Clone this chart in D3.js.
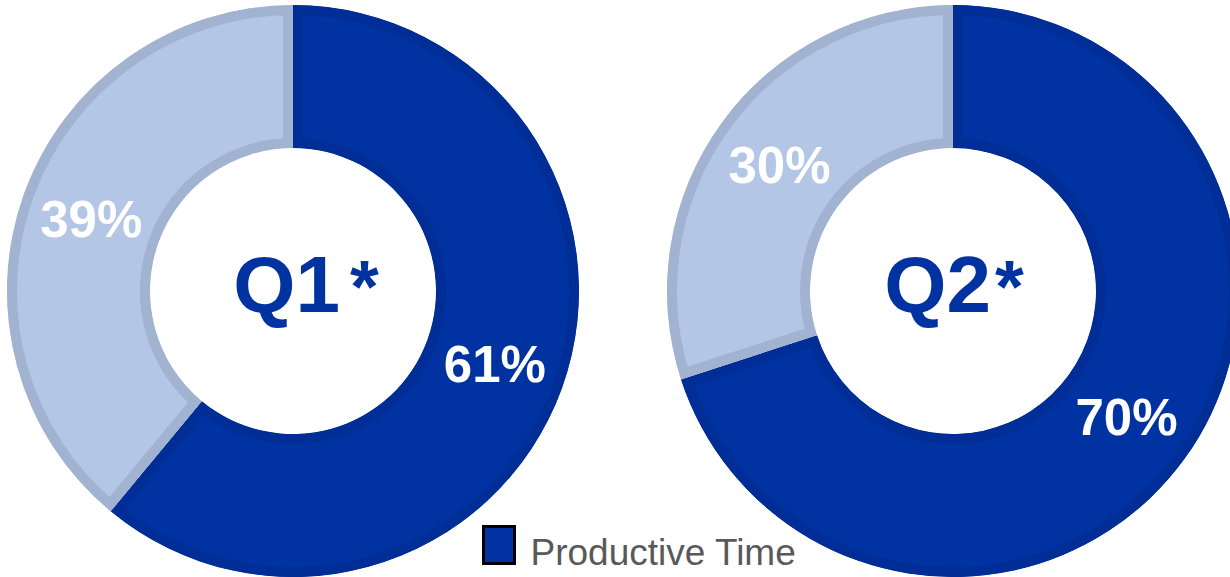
<!DOCTYPE html>
<html>
<head>
<meta charset="utf-8">
<script src="https://cdn.jsdelivr.net/npm/d3@7"></script>
<style>
  html, body { margin: 0; padding: 0; background: #ffffff; }
  svg { display: block; font-family: "Liberation Sans", Arial, sans-serif; }
</style>
</head>
<body>
<svg id="chart" width="1230" height="577"></svg>
<script>
// Share of time per quarter
const quarters = ["Q1", "Q2"];
const categories = ["Productive Time", "Other Time"];
const productive = [61, 70];
const other = [39, 30];
const legendLabels = ["Productive Time"];

const fillColors = { "Productive Time": "#0033a1", "Other Time": "#b4c6e5" };
const edgeColors = { "Productive Time": "#002e96", "Other Time": "#a2b2d1" };

const svg = d3.select("#chart");
const defs = svg.append("defs");

const outerR = 286, innerR = 143, edge = 10;

// Donut centres placed by a point scale
const xPos = d3.scalePoint().domain(quarters).range([293, 953]);
const cy = 291;

const pie = d3.pie().sort(null).value(d => d.value);
const arc = d3.arc().innerRadius(innerR).outerRadius(outerR);
const labelArc = d3.arc().innerRadius((innerR + outerR) / 2).outerRadius((innerR + outerR) / 2);

// small horizontal nudges of the centre titles
const titleShift = { "Q1": 13, "Q2": 1 };

quarters.forEach((q, qi) => {
  const cx = xPos(q);
  const data = [
    { key: categories[0], value: productive[qi] },
    { key: categories[1], value: other[qi] }
  ];
  const g = svg.append("g").attr("transform", `translate(${cx},${cy})`);
  const arcs = pie(data);

  // each segment: fill plus an inset edge (stroke clipped to its own shape)
  arcs.forEach((a, i) => {
    const id = `clip-${q}-${i}`;
    defs.append("clipPath").attr("id", id)
      .append("path").attr("d", arc(a));
    g.append("path")
      .attr("d", arc(a))
      .attr("fill", fillColors[a.data.key])
      .attr("stroke", edgeColors[a.data.key])
      .attr("stroke-width", edge * 2)
      .attr("stroke-linejoin", "miter")
      .attr("clip-path", `url(#${id})`);
  });

  // value labels in the middle of each ring segment
  arcs.forEach(a => {
    const [lx, ly] = labelArc.centroid(a);
    g.append("text")
      .attr("x", lx).attr("y", ly)
      .attr("dy", "0.36em")
      .attr("text-anchor", "middle")
      .attr("fill", "#ffffff")
      .attr("font-weight", "bold")
      .attr("font-size", 51)
      .text(a.data.value + "%");
  });

  // quarter title in the hole
  const t = g.append("text")
    .attr("x", titleShift[q]).attr("y", 21)
    .attr("text-anchor", "middle")
    .attr("fill", "#0033a1")
    .attr("font-weight", "bold")
    .attr("font-size", 80);
  t.append("tspan").text(q);
  t.append("tspan").attr("dx", q === "Q1" ? 10 : 4).attr("dy", 0).attr("font-size", 74).text("*");
});

// legend
const legend = svg.append("g").attr("transform", "translate(483.5,526.5)");
legend.append("rect")
  .attr("width", 31).attr("height", 37)
  .attr("fill", fillColors[legendLabels[0]])
  .attr("stroke", "#000000").attr("stroke-width", 3);
legend.append("text")
  .attr("x", 47).attr("y", 38)
  .attr("fill", "#595959")
  .attr("font-size", 37)
  .text(legendLabels[0]);
</script>
</body>
</html>
